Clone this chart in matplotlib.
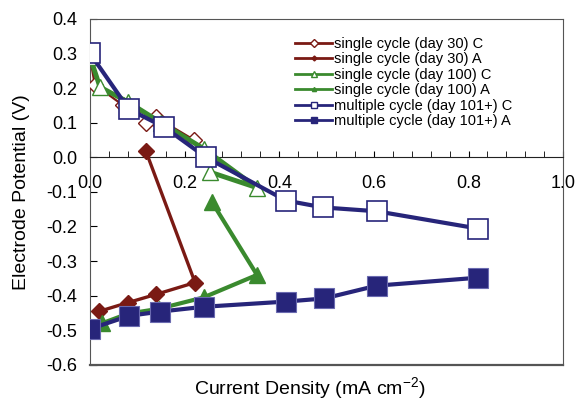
import matplotlib.pyplot as plt
import matplotlib.ticker as ticker
from matplotlib.lines import Line2D

plt.rcParams["font.family"] = ["Liberation Sans", "DejaVu Sans"]
plt.rcParams["mathtext.default"] = "regular"

# single cycle (day 30)
d30_c_x = [0.0, 0.01, 0.07, 0.14, 0.22, 0.118]
d30_c_y = [0.29, 0.21, 0.15, 0.115, 0.05, 0.10]
d30_a_x = [0.02, 0.08, 0.14, 0.222, 0.118]
d30_a_y = [-0.445, -0.42, -0.396, -0.362, 0.018]

# single cycle (day 100)
d100_c_x = [0.0, 0.021, 0.08, 0.15, 0.24, 0.353, 0.254]
d100_c_y = [0.29, 0.203, 0.16, 0.10, 0.025, -0.088, -0.043]
d100_a_x = [0.025, 0.08, 0.145, 0.24, 0.353, 0.258]
d100_a_y = [-0.48, -0.452, -0.438, -0.405, -0.34, -0.13]

# multiple cycle (day 101+)
m_c_x = [0.0, 0.082, 0.157, 0.245, 0.414, 0.493, 0.606, 0.82]
m_c_y = [0.30, 0.139, 0.087, 0.0, -0.125, -0.145, -0.156, -0.206]
m_a_x = [0.0, 0.083, 0.148, 0.241, 0.414, 0.495, 0.606, 0.82]
m_a_y = [-0.496, -0.458, -0.446, -0.432, -0.417, -0.408, -0.371, -0.348]

red = "#7a1a14"
green = "#3a8a2e"
navy = "#27257a"

fig = plt.figure(figsize=(5.77, 4.01), dpi=100)
ax = fig.add_axes([0.156, 0.09, 0.82, 0.863])

# drawing order: red, green, then blue on top
ax.plot(d30_a_x, d30_a_y, "-", color=red, lw=2.4, marker="D", ms=8,
        mfc=red, mec=red, zorder=3)
ax.plot(d30_c_x, d30_c_y, "-", color=red, lw=1.6, marker="D", ms=8,
        mfc="white", mec=red, mew=1.0, zorder=3)
ax.plot(d100_a_x, d100_a_y, "-", color=green, lw=3, marker="^", ms=11,
        mfc=green, mec=green, zorder=4)
ax.plot(d100_c_x, d100_c_y, "-", color=green, lw=3.5, marker="^", ms=12,
        mfc="white", mec=green, mew=1.0, zorder=4)
ax.plot(m_a_x, m_a_y, "-", color=navy, lw=3, marker="s", ms=14,
        mfc=navy, mec="#6a6ab0", mew=0.8, zorder=5)
ax.plot(m_c_x, m_c_y, "-", color=navy, lw=3, marker="s", ms=14,
        mfc="white", mec=navy, mew=1.2, zorder=5)

ax.set_xlim(0, 1.0)
ax.set_ylim(-0.6, 0.4)

# x axis crossing at zero, frame kept as a box
ax.spines["bottom"].set_position(("data", 0))
ax.spines["bottom"].set_color("#222222")
for side in ["left", "top", "right"]:
    ax.spines[side].set_color("#555555")
ax.plot([0, 1], [0, 0], transform=ax.transAxes, color="#555555",
        lw=1.6, clip_on=False)

ax.xaxis.set_major_locator(ticker.MultipleLocator(0.2))
ax.xaxis.set_minor_locator(ticker.MultipleLocator(0.04))
ax.xaxis.set_major_formatter(ticker.FormatStrFormatter("%.1f"))
ax.yaxis.set_major_locator(ticker.MultipleLocator(0.1))
ax.yaxis.set_major_formatter(ticker.FormatStrFormatter("%.1f"))

ax.tick_params(axis="x", which="both", direction="in", length=4,
               labelsize=13, pad=13)
ax.tick_params(axis="y", direction="in", length=5, labelsize=13, pad=9)

ax.set_xlabel(r"Current Density (mA cm$^{-2}$)", fontsize=14)
ax.xaxis.set_label_coords(0.465, -0.03)
ax.set_ylabel("Electrode Potential (V)", fontsize=14, labelpad=12)

handles = [
    Line2D([], [], color=red, lw=2, marker="D", ms=4, mfc="white", mec=red),
    Line2D([], [], color=red, lw=2, marker="D", ms=2.5, mfc=red, mec=red),
    Line2D([], [], color=green, lw=2, marker="^", ms=5, mfc="white", mec=green),
    Line2D([], [], color=green, lw=2, marker="^", ms=3, mfc=green, mec=green),
    Line2D([], [], color=navy, lw=2, marker="s", ms=5, mfc="white", mec=navy),
    Line2D([], [], color=navy, lw=2, marker="s", ms=4, mfc=navy, mec=navy),
]
labels = [
    "single cycle (day 30) C",
    "single cycle (day 30) A",
    "single cycle (day 100) C",
    "single cycle (day 100) A",
    "multiple cycle (day 101+) C",
    "multiple cycle (day 101+) A",
]
ax.legend(handles, labels, loc="upper left", bbox_to_anchor=(0.42, 0.965),
          frameon=False, fontsize=10.5, handlelength=2.6, handletextpad=0.1,
          labelspacing=0.1, borderaxespad=0)

fig.savefig("out.png", dpi=100)
